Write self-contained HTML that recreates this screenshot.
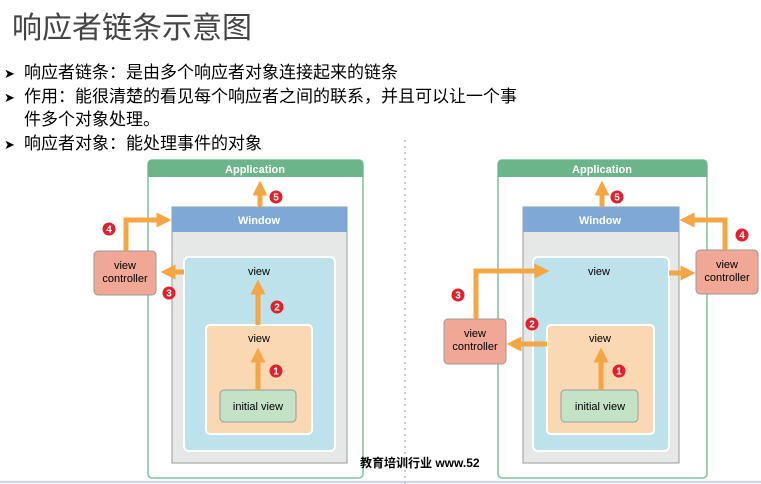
<!DOCTYPE html>
<html><head><meta charset="utf-8"><style>
html,body{margin:0;padding:0;background:#fff;}
body{width:761px;height:484px;overflow:hidden;position:relative;font-family:"Liberation Sans","Noto Sans CJK SC",sans-serif;}
.t{position:absolute;white-space:nowrap;color:#000;}
</style></head><body>
<div class="t" style="left:12px;top:3px;font-size:30px;color:#444;font-family:'Liberation Sans','Noto Sans CJK SC',sans-serif;">响应者链条示意图</div>
<div class="t" style="left:4px;top:61px;font-size:17px;line-height:23px;">
<div><span style="display:inline-block;width:20px;font-size:13px;">➤</span>响应者链条：是由多个响应者对象连接起来的链条</div>
<div><span style="display:inline-block;width:20px;font-size:13px;">➤</span>作用：能很清楚的看见每个响应者之间的联系，并且可以让一个事</div>
<div style="margin-top:-1px"><span style="display:inline-block;width:20px;"></span>件多个对象处理。</div>
<div style="margin-top:1px"><span style="display:inline-block;width:20px;font-size:13px;">➤</span>响应者对象：能处理事件的对象</div>
</div>
<svg width="761" height="484" style="position:absolute;left:0;top:0" font-family="Liberation Sans, sans-serif">
<defs>
<marker id="ah" markerWidth="3" markerHeight="3" refX="1.5" refY="1.5" orient="auto" markerUnits="strokeWidth"><path d="M0,0 L3,1.5 L0,3 z" fill="#f4a645"/></marker>
</defs>
<line x1="405" y1="140" x2="405" y2="484" stroke="#ccc" stroke-width="2" stroke-dasharray="2,4"/>
<line x1="0" y1="482" x2="761" y2="482" stroke="#9ad" stroke-width="2" opacity="0.5"/>
<g id="L">
<rect x="148" y="160" width="215" height="318" rx="4" fill="#fff" stroke="#7cc29a" stroke-width="1.5"/>
<path d="M148,177 V164 a4,4 0 0 1 4,-4 H359 a4,4 0 0 1 4,4 V177 z" fill="#6cb58a"/>
<text x="255" y="173" font-size="11" font-weight="bold" fill="#fff" text-anchor="middle">Application</text>
<rect x="172" y="207" width="175" height="256" fill="#e6e7e7" stroke="#999"/>
<rect x="172" y="207" width="175" height="25" fill="#7fa8d6"/>
<text x="259" y="224" font-size="11" font-weight="bold" fill="#fff" text-anchor="middle">Window</text>
<rect x="184" y="257" width="151" height="194" rx="5" fill="#bde2ec" stroke="#fff" stroke-width="2"/>
<text x="259" y="275" font-size="11" text-anchor="middle">view</text>
<rect x="206" y="325" width="106" height="109" rx="4" fill="#fad8b4" stroke="#fff" stroke-width="2"/>
<text x="259" y="342" font-size="11" text-anchor="middle">view</text>
<rect x="220" y="390" width="76" height="32" rx="4" fill="#c4e2c6" stroke="#999"/>
<text x="258" y="410" font-size="11" text-anchor="middle">initial view</text>
<rect x="94" y="251" width="62" height="44" rx="4" fill="#f0a796" stroke="#999"/>
<text x="125" y="269" font-size="11" text-anchor="middle">view</text>
<text x="125" y="282" font-size="11" text-anchor="middle">controller</text>
<g stroke="#f4a645" stroke-width="5" fill="none" marker-end="url(#ah)">
<path d="M260,207 V188"/>
<path d="M126,251 V220 H164"/>
<path d="M184,272 H168"/>
<path d="M258,325 V287"/>
<path d="M258,390 V355"/>
</g>
</g>
<g>
<rect x="498" y="160" width="209" height="318" rx="4" fill="#fff" stroke="#7cc29a" stroke-width="1.5"/>
<path d="M498,177 V164 a4,4 0 0 1 4,-4 H703 a4,4 0 0 1 4,4 V177 z" fill="#6cb58a"/>
<text x="602" y="173" font-size="11" font-weight="bold" fill="#fff" text-anchor="middle">Application</text>
<rect x="523" y="207" width="156" height="256" fill="#e6e7e7" stroke="#999"/>
<rect x="523" y="207" width="156" height="25" fill="#7fa8d6"/>
<text x="600" y="224" font-size="11" font-weight="bold" fill="#fff" text-anchor="middle">Window</text>
<rect x="533" y="257" width="136" height="194" rx="5" fill="#bde2ec" stroke="#fff" stroke-width="2"/>
<text x="599" y="275" font-size="11" text-anchor="middle">view</text>
<rect x="547" y="325" width="107" height="109" rx="4" fill="#fad8b4" stroke="#fff" stroke-width="2"/>
<text x="600" y="342" font-size="11" text-anchor="middle">view</text>
<rect x="561" y="390" width="77" height="32" rx="4" fill="#c4e2c6" stroke="#999"/>
<text x="600" y="410" font-size="11" text-anchor="middle">initial view</text>
<rect x="444" y="319" width="62" height="45" rx="4" fill="#f0a796" stroke="#999"/>
<text x="475" y="337" font-size="11" text-anchor="middle">view</text>
<text x="475" y="350" font-size="11" text-anchor="middle">controller</text>
<rect x="696" y="250" width="62" height="44" rx="4" fill="#f0a796" stroke="#999"/>
<text x="727" y="268" font-size="11" text-anchor="middle">view</text>
<text x="727" y="281" font-size="11" text-anchor="middle">controller</text>
<g stroke="#f4a645" stroke-width="5" fill="none" marker-end="url(#ah)">
<path d="M602,207 V188"/>
<path d="M476,319 V271 H542"/>
<path d="M547,344 H514"/>
<path d="M669,273 H688"/>
<path d="M725,250 V220 H687"/>
<path d="M601,390 V355"/>
</g>
</g>
<g font-size="10" font-weight="bold" fill="#fff" text-anchor="middle">
<circle cx="276" cy="197" r="6.5" fill="#e0202a"/><text x="276" y="200.5">5</text>
<circle cx="109" cy="229" r="6.5" fill="#e0202a"/><text x="109" y="232.5">4</text>
<circle cx="169" cy="293" r="6.5" fill="#e0202a"/><text x="169" y="296.5">3</text>
<circle cx="277" cy="307" r="6.5" fill="#e0202a"/><text x="277" y="310.5">2</text>
<circle cx="276" cy="371" r="6.5" fill="#e0202a"/><text x="276" y="374.5">1</text>
<circle cx="617" cy="197" r="6.5" fill="#e0202a"/><text x="617" y="200.5">5</text>
<circle cx="458" cy="295" r="6.5" fill="#e0202a"/><text x="458" y="298.5">3</text>
<circle cx="532" cy="324" r="6.5" fill="#e0202a"/><text x="532" y="327.5">2</text>
<circle cx="742" cy="235" r="6.5" fill="#e0202a"/><text x="742" y="238.5">4</text>
<circle cx="619" cy="371" r="6.5" fill="#e0202a"/><text x="619" y="374.5">1</text>
</g>
</svg>
<div class="t" style="left:360px;top:454px;font-size:12px;font-weight:bold;font-family:'Liberation Sans','Noto Sans CJK SC',sans-serif;">教育培训行业 www.52</div>
</body></html>
